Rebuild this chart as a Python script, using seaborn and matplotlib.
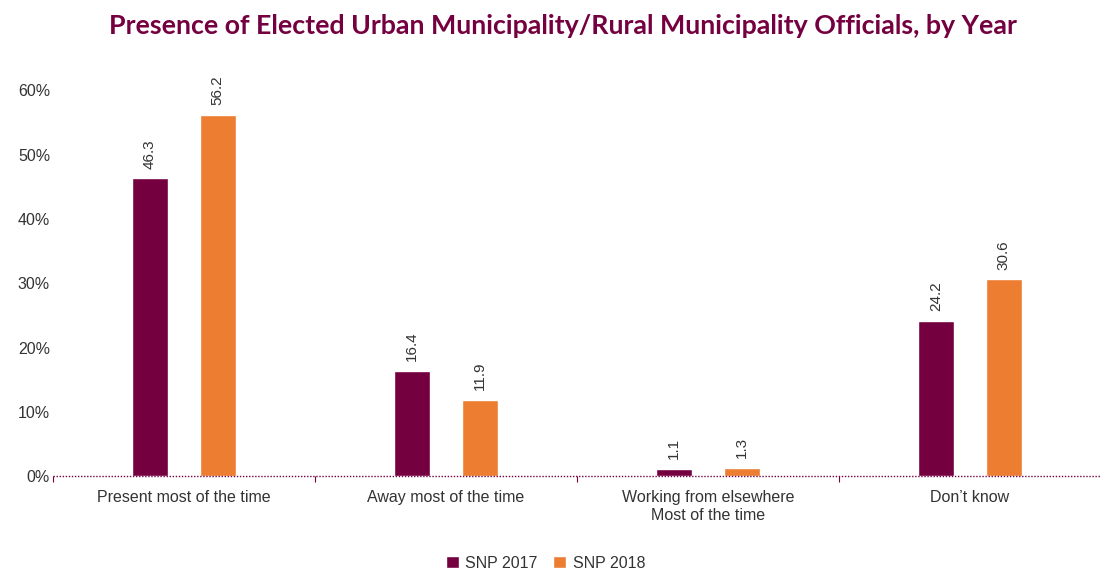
import matplotlib
matplotlib.use('Agg')

import matplotlib.pyplot as plt
import seaborn as sns
import pandas as pd

sns.set_style("white")
plt.rcParams['font.family'] = ['Liberation Sans', 'DejaVu Sans']

# data
categories = ["Present most of the time", "Away most of the time",
              "Working from elsewhere\nMost of the time", "Don\u2019t know"]
snp_2017 = [46.3, 16.4, 1.1, 24.2]
snp_2018 = [56.2, 11.9, 1.3, 30.6]
years = ["SNP 2017", "SNP 2018"]
colors = ["#750040", "#ED7D31"]

df = pd.DataFrame({
    "category": categories * 2,
    "value": snp_2017 + snp_2018,
    "year": [years[0]] * 4 + [years[1]] * 4,
})

fig = plt.figure(figsize=(11.01, 5.71), dpi=100)
ax = fig.add_axes([0.048, 0.166, 0.952, 0.676])

sns.barplot(data=df, x="category", y="value", hue="year", palette=colors,
            saturation=1, width=0.517, gap=0.47, ax=ax, legend=True)

for cont in ax.containers:
    ax.bar_label(cont, fmt="%.1f", rotation=90, padding=7, fontsize=11,
                 color="#333333", clip_on=False)

ax.set_ylim(0, 60)
ax.set_xlim(-0.5, 3.5)
ax.set_yticks(range(0, 61, 10))
ax.set_yticklabels([f"{v}%" for v in range(0, 61, 10)], fontsize=11.5, color="#333333")
ax.set_xticks(range(4))
ax.set_xticklabels(categories, fontsize=11.5, color="#333333")
ax.tick_params(axis="x", length=0, pad=10)
ax.tick_params(axis="y", length=0, pad=2)
ax.set_xticks([-0.5, 0.5, 1.5, 2.5], minor=True)
ax.tick_params(axis="x", which="minor", bottom=True, length=4, color="#750040", width=0.8)
ax.set_xlabel("")
ax.set_ylabel("")

for side in ["top", "right", "left", "bottom"]:
    ax.spines[side].set_visible(False)
# dotted baseline
ax.axhline(0, color="#750040", linestyle=(0, (1, 1.2)), linewidth=1, clip_on=False)

ax.legend(loc="center", bbox_to_anchor=(0.47, -0.225), ncol=2, frameon=False,
          fontsize=11.5, handlelength=0.8, handleheight=0.8, handletextpad=0.4,
          columnspacing=1.0, labelcolor="#333333")

fig.suptitle("Presence of Elected Urban Municipality/Rural Municipality Officials, by Year",
             x=0.511, y=0.975, fontsize=19.3, fontweight="bold", color="#750040",
             family=["Lato", "DejaVu Sans"])

fig.savefig("out.png", dpi=100)
